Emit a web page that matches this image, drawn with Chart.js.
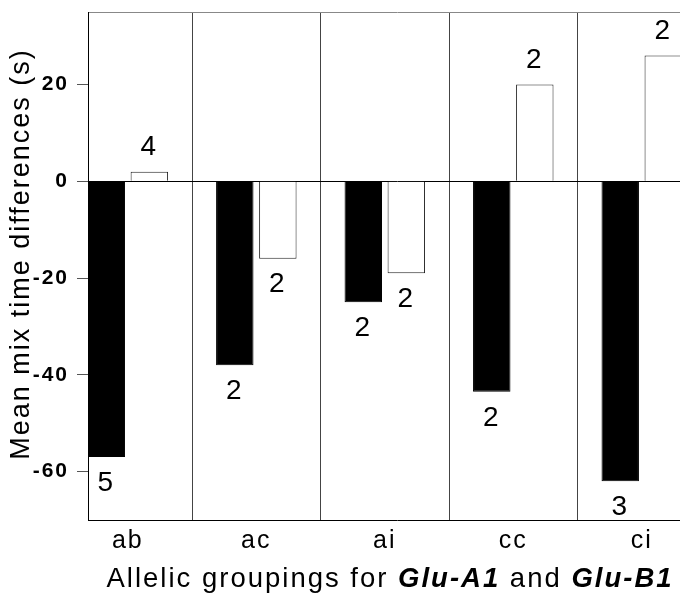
<!DOCTYPE html>
<html>
<head>
<meta charset="utf-8">
<script src="https://cdn.jsdelivr.net/npm/chart.js@4/dist/chart.umd.min.js"></script>
<style>
  html, body { margin: 0; padding: 0; background: #fff; overflow: hidden; }
</style>
</head>
<body>
<canvas id="mixChart" width="712" height="596"></canvas>
<script>
const categories = ['ab', 'ac', 'ai', 'cc', 'ci'];
const blackValues = [-57, -38, -25, -43.5, -62];
const whiteValues = [2, -16, -19, 20, 26];
const blackCounts = [5, 2, 2, 2, 3];
const whiteCounts = [4, 2, 2, 2, 2];
const yTicks = [-60, -40, -20, 0, 20];
const yMin = -70;
const yMax = 35;

const FONT = '"Liberation Sans", Arial, Helvetica, sans-serif';

// n above / below each bar
const countLabels = {
    id: 'countLabels',
    afterDatasetsDraw(chart) {
        const ctx = chart.ctx;
        const counts = [blackCounts, whiteCounts];
        ctx.save();
        ctx.font = '28px ' + FONT;
        ctx.fillStyle = '#000';
        ctx.textAlign = 'center';
        ctx.textBaseline = 'middle';
        chart.data.datasets.forEach((ds, i) => {
            chart.getDatasetMeta(i).data.forEach((bar, j) => {
                const v = ds.data[j].y;
                const y = v >= 0 ? bar.y - 24 : bar.y + 26;
                ctx.fillText(String(counts[i][j]), bar.x, y);
            });
        });
        ctx.restore();
    }
};

// axis titles drawn by hand (x title has bold italic parts)
const axisTitles = {
    id: 'axisTitles',
    afterDraw(chart) {
        const ctx = chart.ctx;
        const area = chart.chartArea;
        const parts = [
            ['Allelic groupings for ', '27.5px ' + FONT],
            ['Glu-A1', 'italic bold 27.5px ' + FONT],
            [' and ', '27.5px ' + FONT],
            ['Glu-B1', 'italic bold 27.5px ' + FONT]
        ];
        ctx.save();
        ctx.fillStyle = '#000';
        ctx.textBaseline = 'alphabetic';
        ctx.textAlign = 'left';
        let total = 0;
        parts.forEach(p => { ctx.font = p[1]; total += ctx.measureText(p[0]).width; });
        let x = area.left + 302 - total / 2;
        const y = area.bottom + 67;
        parts.forEach(p => {
            ctx.font = p[1];
            ctx.fillText(p[0], x, y);
            x += ctx.measureText(p[0]).width;
        });
        ctx.restore();

        ctx.save();
        ctx.fillStyle = '#000';
        ctx.font = '27px ' + FONT;
        ctx.textAlign = 'center';
        ctx.textBaseline = 'middle';
        ctx.translate(area.left - 66, (area.top + area.bottom) / 2 - 12);
        ctx.rotate(-Math.PI / 2);
        ctx.fillText('Mean mix time differences (s)', 0, 0);
        ctx.restore();
    }
};

const spacing = {
    id: 'spacing',
    beforeDraw(chart) {
        chart.ctx.letterSpacing = '2px';
    }
};

const ctx = document.getElementById('mixChart').getContext('2d');

const chart = new Chart(ctx, {
    type: 'bar',
    data: {
        datasets: [{
            label: 'black',
            data: blackValues.map((v, i) => ({ x: i, y: v })),
            backgroundColor: '#000',
            borderColor: '#000',
            borderWidth: 1
        }, {
            label: 'white',
            data: whiteValues.map((v, i) => ({ x: i, y: v })),
            backgroundColor: '#fff',
            borderColor: '#222',
            borderWidth: 1
        }]
    },
    options: {
        responsive: false,
        animation: false,
        events: [],
        categoryPercentage: 0.67,
        barPercentage: 0.87,
        layout: { padding: { top: 12, right: 6, left: 0, bottom: 0 } },
        plugins: {
            legend: { display: false },
            tooltip: { enabled: false }
        },
        scales: {
            x: {
                type: 'linear',
                offset: false,
                min: -0.31,
                max: 4.5,
                afterBuildTicks: scale => {
                    scale.ticks = categories.map((c, i) => ({ value: i }));
                },
                afterFit: scale => {
                    scale.height = 76;
                    scale.paddingLeft = 0;
                    scale.paddingRight = 0;
                },
                ticks: {
                    autoSkip: false,
                    maxRotation: 0,
                    padding: 6,
                    color: '#000',
                    font: { family: FONT, size: 25 },
                    callback: v => categories[v] ?? ''
                },
                grid: {
                    offset: true,
                    drawOnChartArea: true,
                    tickLength: 0,
                    color: '#444',
                    lineWidth: 1
                },
                border: { display: true, color: '#000', width: 1 }
            },
            y: {
                min: yMin,
                max: yMax,
                afterBuildTicks: scale => {
                    scale.ticks = [yMin, ...yTicks, yMax].map(v => ({ value: v }));
                },
                afterFit: scale => {
                    scale.width = 88;
                    scale.paddingTop = 0;
                    scale.paddingBottom = 0;
                },
                ticks: {
                    padding: 8,
                    color: '#000',
                    font: { family: FONT, size: 21, weight: 'bold' },
                    callback: v => yTicks.includes(v) ? v : ''
                },
                grid: {
                    drawOnChartArea: true,
                    tickLength: 11,
                    lineWidth: 1,
                    color: c => c.tick.value === 0 ? '#000' : (c.tick.value === yMax ? '#888' : 'rgba(0,0,0,0)'),
                    tickColor: c => yTicks.includes(c.tick.value) ? '#555' : 'rgba(0,0,0,0)'
                },
                border: { display: true, color: '#000', width: 1 }
            }
        }
    },
    plugins: [spacing, countLabels, axisTitles]
});
</script>
</body>
</html>
